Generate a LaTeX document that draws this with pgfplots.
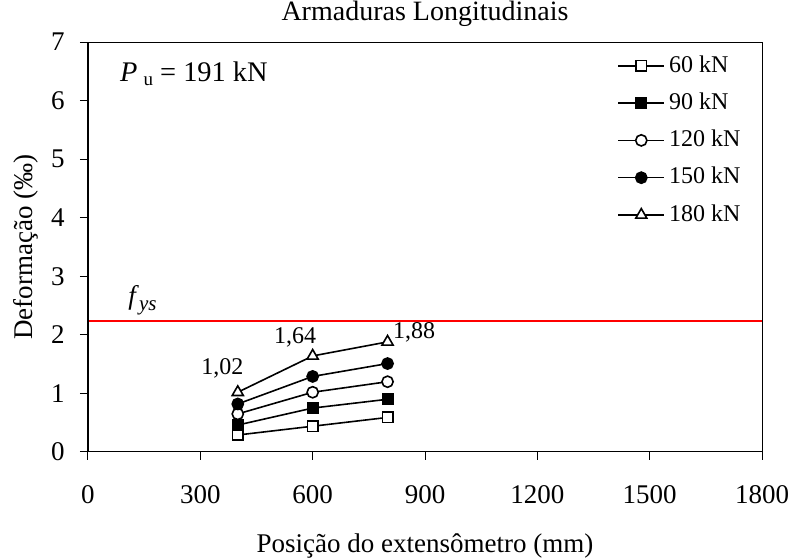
\documentclass[border=0pt]{standalone}
\usepackage{fontspec}
\setmainfont{Liberation Serif}
\usepackage{pgfplots}
\pgfplotsset{compat=1.18}
\begin{document}
\fontsize{13.5}{16}\selectfont
\begin{tikzpicture}
\path[use as bounding box] (-44pt,-54pt) rectangle (352pt,226pt);
\begin{axis}[
  scale only axis, width=337pt, height=205pt,
  at={(0,0)}, anchor=south west,
  xmin=0, xmax=1800, ymin=0, ymax=7,
  xtick={0,300,600,900,1200,1500,1800}, ytick={0,1,2,3,4,5,6,7},
  tick align=outside, xtick pos=bottom, ytick pos=left,
  major tick length=4pt,
  tick style={black, line width=0.5pt},
  axis line style={line width=0.5pt},
  /pgf/number format/assume math mode=true,
  /pgf/number format/1000 sep={},
  xticklabel style={font=\fontsize{13.5}{16}\selectfont, yshift=-8pt},
  yticklabel style={font=\fontsize{13.5}{16}\selectfont, xshift=-3pt},
  title={Armaduras Longitudinais},
  title style={at={(axis description cs:0.5,1.022)}, anchor=base, font=\fontsize{14}{16}\selectfont, inner sep=0pt},
  xlabel={Posição do extensômetro (mm)},
  xlabel style={at={(axis description cs:0.5,-0.2463)}, anchor=base, font=\fontsize{13.5}{16}\selectfont, inner sep=0pt},
  ylabel={Deformação (‰)},
  ylabel style={at={(axis description cs:-0.0816,0.5)}, anchor=base, rotate=0, font=\fontsize{13.5}{16}\selectfont, inner sep=0pt},
  legend style={at={(rel axis cs:0.785,0.978)}, anchor=north west, draw=none, fill=none,
    font=\fontsize{12}{14}\selectfont, row sep=4.3pt, inner sep=0pt},
  legend cell align=left,
  legend image code/.code={\draw[mark repeat=2,mark phase=2,line width=0.8pt] plot coordinates {(0pt,0pt)(11.5pt,0pt)(23pt,0pt)};},
  every axis plot/.append style={black, line width=0.8pt},
]
\addplot[red, line width=1pt, forget plot] coordinates {(0,2.24)(1800,2.24)};
\addplot[mark=square*, mark size=2.6pt, mark options={fill=white, solid}] coordinates {(400,0.29)(600,0.44)(800,0.59)};
\addlegendentry{60 kN}
\addplot[mark=square*, mark size=2.6pt, mark options={fill=black, solid}] coordinates {(400,0.46)(600,0.75)(800,0.90)};
\addlegendentry{90 kN}
\addplot[mark=*, mark size=2.8pt, mark options={fill=white, solid}] coordinates {(400,0.65)(600,1.02)(800,1.20)};
\addlegendentry{120 kN}
\addplot[mark=*, mark size=2.8pt, mark options={fill=black, solid}] coordinates {(400,0.82)(600,1.29)(800,1.51)};
\addlegendentry{150 kN}
\addplot[mark=triangle*, mark size=3.2pt, mark options={fill=white, solid}] coordinates {(400,1.02)(600,1.64)(800,1.88)};
\addlegendentry{180 kN}
\draw[line width=1pt] (rel axis cs:0,1) -- (rel axis cs:0,0) -- (rel axis cs:1,0);
\node[anchor=base, font=\fontsize{12}{14}\selectfont] at (axis cs:359,1.33) {1,02};
\node[anchor=base, font=\fontsize{12}{14}\selectfont] at (axis cs:553,1.86) {1,64};
\node[anchor=base, font=\fontsize{12}{14}\selectfont] at (axis cs:871,1.94) {1,88};
\node[anchor=base west, inner sep=0pt, font=\fontsize{13.5}{16}\selectfont] at (axis cs:107,2.51) {\textit{f}\raisebox{-3pt}{\fontsize{10.5}{10}\selectfont\textit{ys}}};
\node[anchor=base west, inner sep=0pt, font=\fontsize{14.2}{16}\selectfont] at (axis cs:85,6.33) {\textit{P}\kern3pt\raisebox{-2pt}{\fontsize{9.5}{9}\selectfont u} = 191 kN};
\end{axis}
\end{tikzpicture}
\end{document}
